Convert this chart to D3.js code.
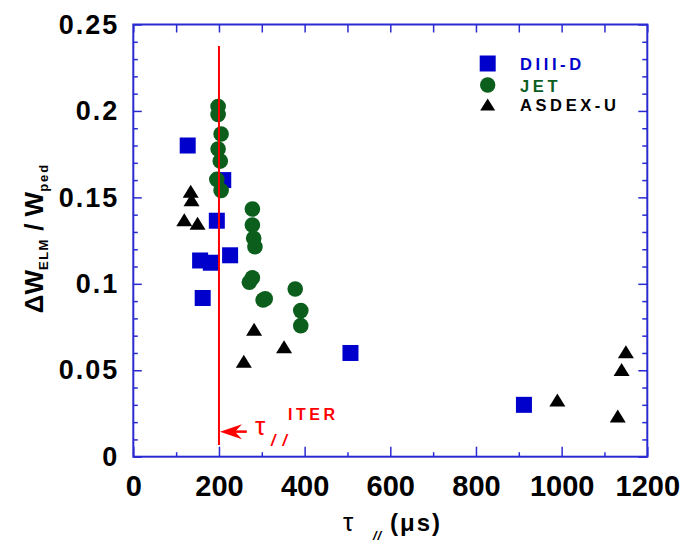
<!DOCTYPE html>
<html>
<head>
<meta charset="utf-8">
<script src="https://cdn.jsdelivr.net/npm/d3@7"></script>
<style>
  html, body { margin: 0; padding: 0; background: #fff; }
  svg { display: block; font-family: "Liberation Sans", Arial, Helvetica, sans-serif; }
</style>
</head>
<body>
<svg id="chart" width="699" height="542"></svg>
<script>
// ELM energy loss normalised to pedestal energy versus parallel loss time
const diiidTau = [127, 210, 195, 156, 181, 226, 162, 507, 912];
const diiidW   = [0.180, 0.160, 0.1365, 0.1135, 0.1122, 0.1165, 0.0918, 0.0600, 0.0300];

const jetTau = [198, 198, 205, 198, 203, 195, 205, 278, 278, 281, 284, 271, 278, 303, 308, 378, 391, 391];
const jetW   = [0.2025, 0.198, 0.1867, 0.178, 0.171, 0.1604, 0.154, 0.1433, 0.134, 0.1263, 0.1215, 0.1009, 0.1035, 0.0906, 0.0914, 0.097, 0.0845, 0.0758];

const asdexTau = [134, 136, 119, 150, 282, 352, 258, 990, 1150, 1140, 1131];
const asdexW   = [0.1536, 0.1487, 0.137, 0.135, 0.0737, 0.0636, 0.0552, 0.0328, 0.0607, 0.0505, 0.0235];

const xTicks = [0, 200, 400, 600, 800, 1000, 1200];
const xMinor = [100, 300, 500, 700, 900, 1100];
const yTicks = [0, 0.05, 0.1, 0.15, 0.2, 0.25];
const yTickLabels = ["0", "0.05", "0.1", "0.15", "0.2", "0.25"];
const yMinor = d3.range(0, 26).map(i => i / 100).filter(v => Math.round(v * 100) % 5 !== 0);

const seriesNames = ["DIII-D", "JET", "ASDEX-U"];

// ITER parallel loss time marker
const tauIter = 200;
const iterLineTop = 0.2375, iterLineBottom = 0.0068;
const arrowY = 0.0145, arrowTail = 265;

const blue = "#0000cc", green = "#0b5e1c", black = "#000000", red = "#ff0000";
const axisBlue = "#2a2ad2";

const svg = d3.select("#chart");
const x = d3.scaleLinear().domain([0, 1200]).range([133.3, 647.3]);
const y = d3.scaleLinear().domain([0, 0.25]).range([456.7, 24.5]);

const [x0, x1] = x.range();
const [yb, yt] = y.range();

// ticks (inward on all four sides)
function styleAxis(g) {
  g.select(".domain").remove();
  g.selectAll(".tick line").attr("stroke", axisBlue).attr("stroke-width", 1.5);
}
const fmtNone = () => "";

svg.append("g").attr("transform", `translate(0,${yb})`)
  .call(d3.axisBottom(x).tickValues(xMinor).tickSize(-4.5).tickFormat(fmtNone)).call(styleAxis);
const bottomAxis = svg.append("g").attr("transform", `translate(0,${yb})`)
  .call(d3.axisBottom(x).tickValues(xTicks).tickSize(-10).tickPadding(19).tickFormat(d3.format("d")))
  .call(styleAxis);
bottomAxis.selectAll("text")
  .attr("fill", "#000").attr("font-size", 29).attr("font-weight", "bold")
  .attr("font-family", "Liberation Sans, Arial, sans-serif");

svg.append("g").attr("transform", `translate(0,${yt})`)
  .call(d3.axisTop(x).tickValues(xMinor).tickSize(-8).tickFormat(fmtNone)).call(styleAxis);
svg.append("g").attr("transform", `translate(0,${yt})`)
  .call(d3.axisTop(x).tickValues(xTicks).tickSize(-8).tickFormat(fmtNone)).call(styleAxis);

svg.append("g").attr("transform", `translate(${x0},0)`)
  .call(d3.axisLeft(y).tickValues(yMinor).tickSize(-4.5).tickFormat(fmtNone)).call(styleAxis);
const leftAxis = svg.append("g").attr("transform", `translate(${x0},0)`)
  .call(d3.axisLeft(y).tickValues(yTicks).tickSize(-8.5).tickPadding(14)
    .tickFormat((d, i) => yTickLabels[i]))
  .call(styleAxis);
leftAxis.selectAll("text")
  .attr("fill", "#000").attr("font-size", 27).attr("font-weight", "bold")
  .attr("letter-spacing", 2)
  .attr("font-family", "Liberation Sans, Arial, sans-serif");

svg.append("g").attr("transform", `translate(${x1},0)`)
  .call(d3.axisRight(y).tickValues(yMinor).tickSize(-5).tickFormat(fmtNone)).call(styleAxis);
svg.append("g").attr("transform", `translate(${x1},0)`)
  .call(d3.axisRight(y).tickValues(yTicks).tickSize(-9).tickFormat(fmtNone)).call(styleAxis);

// frame
svg.append("rect")
  .attr("x", x0).attr("y", yt).attr("width", x1 - x0).attr("height", yb - yt)
  .attr("fill", "none").attr("stroke", axisBlue).attr("stroke-width", 2);

// markers
const triPath = "M0,-6.5L8,6.5L-8,6.5Z";

svg.append("g").selectAll("rect")
  .data(d3.zip(diiidTau, diiidW)).join("rect")
  .attr("x", d => x(d[0]) - 8).attr("y", d => y(d[1]) - 8)
  .attr("width", 16).attr("height", 16).attr("fill", blue);

svg.append("g").selectAll("circle")
  .data(d3.zip(jetTau, jetW)).join("circle")
  .attr("cx", d => x(d[0])).attr("cy", d => y(d[1]))
  .attr("r", 7.8).attr("fill", green);

svg.append("g").selectAll("path")
  .data(d3.zip(asdexTau, asdexW)).join("path")
  .attr("transform", d => `translate(${x(d[0])},${y(d[1])})`)
  .attr("d", triPath).attr("fill", black);

// ITER line and arrow
svg.append("line")
  .attr("x1", x(tauIter)).attr("x2", x(tauIter))
  .attr("y1", y(iterLineTop)).attr("y2", y(iterLineBottom))
  .attr("stroke", red).attr("stroke-width", 2);

const ax = x(tauIter) + 1, ay = y(arrowY);
svg.append("line")
  .attr("x1", ax + 12).attr("x2", x(arrowTail))
  .attr("y1", ay).attr("y2", ay)
  .attr("stroke", red).attr("stroke-width", 2.5);
svg.append("path")
  .attr("d", `M${ax},${ay}L${ax + 22},${ay - 7.5}L${ax + 15},${ay}L${ax + 22},${ay + 7.5}Z`)
  .attr("fill", red);

const iterLabel = svg.append("g").attr("fill", red);
iterLabel.append("text").attr("x", 255).attr("y", 435)
  .attr("font-size", 26).text("τ");
iterLabel.append("text").attr("x", 271).attr("y", 446)
  .attr("font-size", 16).attr("font-weight", "bold").attr("font-style", "italic")
  .attr("letter-spacing", 7).text("//");
iterLabel.append("text").attr("x", 288).attr("y", 420)
  .attr("font-size", 16).attr("font-weight", "bold").attr("letter-spacing", 3.5).text("ITER");

// legend
const legend = svg.append("g");
const legendColors = [blue, green, black];
const legendY = [63.5, 85, 104.5];
const legendBase = [70, 91.5, 111];
legend.append("rect").attr("x", 487.7 - 8).attr("y", legendY[0] - 8)
  .attr("width", 16).attr("height", 16).attr("fill", blue);
legend.append("circle").attr("cx", 487.7).attr("cy", legendY[1]).attr("r", 7.7).attr("fill", green);
legend.append("path").attr("transform", `translate(487.7,${legendY[2]})`)
  .attr("d", "M0,-6L7.5,6L-7.5,6Z").attr("fill", black);
seriesNames.forEach((name, i) => {
  legend.append("text").attr("x", 520).attr("y", legendBase[i])
    .attr("font-size", 16.5).attr("font-weight", "bold").attr("letter-spacing", 3.6)
    .attr("fill", legendColors[i]).text(name);
});

// x axis title
const xTitle = svg.append("g").attr("fill", "#000");
xTitle.append("text").attr("x", 343).attr("y", 531).attr("font-size", 26).text("τ");
xTitle.append("text").attr("x", 373).attr("y", 540)
  .attr("font-size", 13).attr("font-style", "italic").attr("font-weight", "bold")
  .attr("letter-spacing", 1).text("//");
xTitle.append("text").attr("x", 390).attr("y", 531)
  .attr("font-size", 24).attr("font-weight", "bold").attr("letter-spacing", 2).text("(μs)");

// y axis title
const yTitle = svg.append("text")
  .attr("transform", "translate(43,238) rotate(-90)")
  .attr("text-anchor", "middle").attr("font-weight", "bold").attr("fill", "#000");
yTitle.append("tspan").attr("font-size", 26).text("ΔW");
yTitle.append("tspan").attr("font-size", 13).attr("dy", 5).attr("letter-spacing", 1.5).text("ELM");
yTitle.append("tspan").attr("font-size", 26).attr("dy", -5).text(" / W");
yTitle.append("tspan").attr("font-size", 13).attr("dy", 5).attr("letter-spacing", 2).text("ped");
</script>
</body>
</html>
